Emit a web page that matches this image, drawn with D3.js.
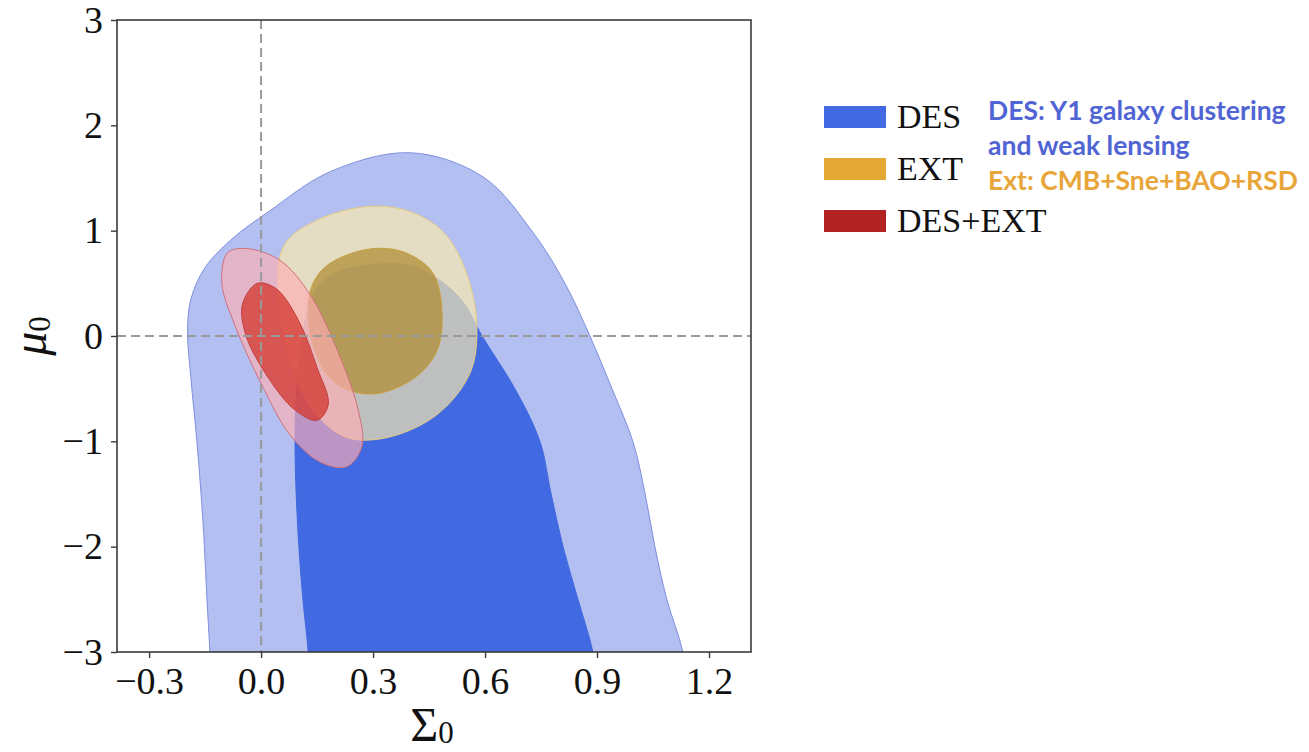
<!DOCTYPE html>
<html>
<head>
<meta charset="utf-8">
<script src="https://cdn.jsdelivr.net/npm/d3@7"></script>
<style>
  body { margin: 0; background: #fff; }
</style>
</head>
<body>
<svg id="chart"></svg>
<script>
// tick values
var xTicks = [-0.3, 0.0, 0.3, 0.6, 0.9, 1.2];
var yTicks = [-3, -2, -1, 0, 1, 2, 3];

// legend entries
var legendNames = ["DES", "EXT", "DES+EXT"];
var legendColors = ["#4169e1", "#e4a934", "#b22222"];

// contour outlines, as [Sigma0, mu0]
// DES 95% (opens out through the bottom of the plot)
var desOuter = [
  [-0.13, -3.5], [-0.137, -3.0], [-0.145, -2.5], [-0.155, -1.8], [-0.172, -1.0],
  [-0.188, -0.4], [-0.197, 0.05], [-0.188, 0.35], [-0.15, 0.65], [-0.075, 0.93],
  [0.02, 1.18], [0.185, 1.56], [0.4, 1.74], [0.595, 1.51], [0.729, 0.98],
  [0.814, 0.5], [0.881, 0.0], [0.94, -0.5], [0.996, -1.0], [1.029, -1.5],
  [1.055, -2.0], [1.087, -2.5], [1.13, -3.0], [1.15, -3.5], [0.5, -3.8]
];
// DES 68%
var desInner = [
  [0.13, -3.5], [0.126, -3.0], [0.112, -2.5], [0.099, -1.87], [0.091, -1.08],
  [0.095, -0.5], [0.11, 0.0], [0.14, 0.4], [0.2, 0.6], [0.3, 0.68], [0.4, 0.67],
  [0.47, 0.55], [0.54, 0.33], [0.592, 0.0], [0.68, -0.5], [0.747, -1.0],
  [0.777, -1.5], [0.809, -2.0], [0.849, -2.5], [0.889, -3.0], [0.91, -3.5], [0.5, -3.8]
];
// EXT 95%
var extOuter = [
  [0.05, 0.2], [0.06, 0.85], [0.15, 1.1], [0.29, 1.23], [0.4, 1.18], [0.49, 0.98],
  [0.55, 0.6], [0.578, 0.1], [0.56, -0.35], [0.47, -0.75], [0.33, -0.97],
  [0.22, -0.95], [0.12, -0.6]
];
// EXT 68%
var extInner = [
  [0.13, 0.4], [0.17, 0.65], [0.28, 0.82], [0.38, 0.8], [0.46, 0.6], [0.485, 0.2],
  [0.47, -0.15], [0.41, -0.4], [0.3, -0.55], [0.2, -0.45], [0.14, -0.1]
];
// DES+EXT 95%
var bothOuter = [
  [-0.09, 0.79], [-0.04, 0.83], [0.05, 0.72], [0.13, 0.4], [0.2, -0.1], [0.26, -0.7],
  [0.27, -1.05], [0.23, -1.24], [0.16, -1.2], [0.08, -0.95], [0.0, -0.45],
  [-0.07, 0.1], [-0.105, 0.5]
];
// DES+EXT 68%
var bothInner = [
  [-0.01, 0.5], [0.04, 0.45], [0.1, 0.15], [0.15, -0.3], [0.18, -0.65], [0.15, -0.8],
  [0.09, -0.7], [0.02, -0.4], [-0.04, 0.0], [-0.05, 0.3]
];

var width = 1309;
var height = 752;
// plot box edges (note: "top" is taken by window.top)
var boxL = 117, boxR = 751, boxT = 20, boxB = 652;

var svg = d3.select("#chart").attr("width", width).attr("height", height);

var x = d3.scaleLinear().domain([-0.386, 1.3125]).range([boxL, boxR]);
var y = d3.scaleLinear().domain([-3, 3]).range([boxB, boxT]);

svg.append("clipPath").attr("id", "plotclip")
  .append("rect")
  .attr("x", boxL).attr("y", boxT)
  .attr("width", boxR - boxL).attr("height", boxB - boxT);

var plot = svg.append("g").attr("clip-path", "url(#plotclip)");

var line = d3.line()
  .x(d => x(d[0]))
  .y(d => y(d[1]))
  .curve(d3.curveCatmullRomClosed.alpha(0.5));

// contour layers, back to front
var layers = [
  { pts: desOuter, fill: "#b2bff0", op: 1, stroke: "#7f8ee0" },
  { pts: desInner, fill: "#4169e1", op: 1, stroke: "#4169e1" },
  { pts: extOuter, fill: "#ffecad", op: 0.66, stroke: "#e6cc80" },
  { pts: extInner, fill: "#b08c30", op: 0.72, stroke: "#c8a040" },
  { pts: bothOuter, fill: "#ffaeb4", op: 0.65, stroke: "#d0707a" },
  { pts: bothInner, fill: "#d43a32", op: 0.78, stroke: "#c04040" }
];

plot.selectAll(".contour")
  .data(layers)
  .enter()
  .append("path")
  .classed("contour", true)
  .attr("d", d => line(d.pts))
  .attr("fill", d => d.fill)
  .attr("fill-opacity", d => d.op)
  .attr("stroke", d => d.stroke)
  .attr("stroke-width", 1);

// dashed zero lines
plot.append("line")
  .attr("x1", boxL).attr("x2", boxR)
  .attr("y1", y(0)).attr("y2", y(0))
  .attr("stroke", "#9a9a9a").attr("stroke-width", 2)
  .attr("stroke-dasharray", "9,5");
plot.append("line")
  .attr("x1", x(0)).attr("x2", x(0))
  .attr("y1", boxT).attr("y2", boxB)
  .attr("stroke", "#9a9a9a").attr("stroke-width", 2)
  .attr("stroke-dasharray", "9,5");

// frame
svg.append("rect")
  .attr("x", boxL).attr("y", boxT)
  .attr("width", boxR - boxL).attr("height", boxB - boxT)
  .attr("fill", "none").attr("stroke", "#3a3a3a").attr("stroke-width", 1.6);

// axes
var xAxis = svg.append("g")
  .attr("transform", "translate(0," + boxB + ")")
  .call(d3.axisBottom(x).tickValues(xTicks).tickFormat(d3.format(".1f")).tickSize(6).tickPadding(9));
var yAxis = svg.append("g")
  .attr("transform", "translate(" + boxL + ",0)")
  .call(d3.axisLeft(y).tickValues(yTicks).tickFormat(d3.format("d")).tickSize(6).tickPadding(8));

[xAxis, yAxis].forEach(function (a) {
  a.select(".domain").remove();
  a.selectAll(".tick line").attr("stroke", "#3a3a3a").attr("stroke-width", 1.4);
  a.selectAll(".tick text")
    .attr("fill", "#111")
    .style("font-family", "'Liberation Serif', 'DejaVu Serif', serif")
    .style("font-size", "38px");
});

// axis titles
var xTitle = svg.append("text")
  .attr("x", 432).attr("y", 741)
  .attr("text-anchor", "middle")
  .style("font-family", "'Liberation Serif', serif")
  .style("font-size", "48px")
  .attr("fill", "#111");
xTitle.append("tspan").text("Σ");
xTitle.append("tspan").attr("dy", 2).style("font-size", "31px").text("0");

var yTitle = svg.append("text")
  .attr("transform", "translate(46,336) rotate(-90)")
  .attr("text-anchor", "middle")
  .style("font-family", "'Liberation Serif', serif")
  .style("font-size", "48px")
  .attr("fill", "#111");
yTitle.append("tspan").style("font-style", "italic").text("μ");
yTitle.append("tspan").attr("dy", 4).style("font-size", "31px").text("0");

// legend
var legend = svg.append("g");
legend.selectAll("rect")
  .data(legendNames)
  .enter()
  .append("rect")
  .attr("x", 824)
  .attr("y", (d, i) => 106 + i * 52)
  .attr("width", 62)
  .attr("height", 22)
  .attr("fill", (d, i) => legendColors[i]);
legend.selectAll("text")
  .data(legendNames)
  .enter()
  .append("text")
  .attr("x", 897)
  .attr("y", (d, i) => 128 + i * 52)
  .style("font-family", "'Liberation Serif', serif")
  .style("font-size", "34px")
  .attr("fill", "#111")
  .text(d => d);

// dataset notes
var notes = [
  { t: "DES: Y1 galaxy clustering", c: "#5164d4", yy: 120 },
  { t: "and weak lensing", c: "#5164d4", yy: 155 },
  { t: "Ext: CMB+Sne+BAO+RSD", c: "#e8a63a", yy: 190 }
];
svg.selectAll(".note")
  .data(notes)
  .enter()
  .append("text")
  .classed("note", true)
  .attr("x", 988)
  .attr("y", d => d.yy)
  .style("font-family", "Lato, 'Open Sans', sans-serif")
  .style("font-weight", "700")
  .style("font-size", "26.5px")
  .attr("fill", d => d.c)
  .text(d => d.t);
</script>
</body>
</html>
